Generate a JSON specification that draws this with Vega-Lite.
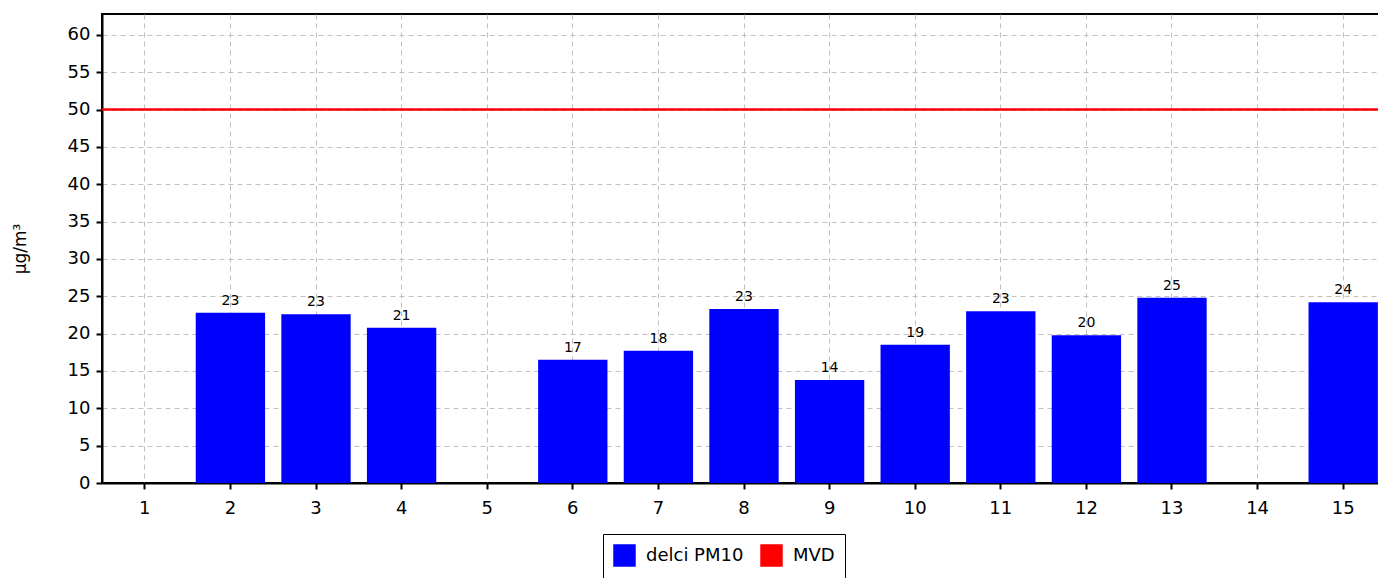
{
  "$schema": "https://vega.github.io/schema/vega-lite/v6.json",
  "autosize": {"type": "none"},
  "padding": {"left": 102, "top": 14, "right": 0, "bottom": 95},
  "width": 1284,
  "height": 469,
  "background": "white",
  "config": {
    "font": "DejaVu Sans",
    "view": {"stroke": "black", "strokeWidth": 2}
  },
  "datasets": {
    "pm": [
      {"day": "2", "value": 22.8, "series": "delci PM10"},
      {"day": "3", "value": 22.6, "series": "delci PM10"},
      {"day": "4", "value": 20.8, "series": "delci PM10"},
      {"day": "6", "value": 16.5, "series": "delci PM10"},
      {"day": "7", "value": 17.7, "series": "delci PM10"},
      {"day": "8", "value": 23.3, "series": "delci PM10"},
      {"day": "9", "value": 13.8, "series": "delci PM10"},
      {"day": "10", "value": 18.5, "series": "delci PM10"},
      {"day": "11", "value": 23.0, "series": "delci PM10"},
      {"day": "12", "value": 19.8, "series": "delci PM10"},
      {"day": "13", "value": 24.8, "series": "delci PM10"},
      {"day": "15", "value": 24.2, "series": "delci PM10"}
    ],
    "limit": [{"value": 50, "series": "MVD"}]
  },
  "encoding": {
    "y": {
      "field": "value", "type": "quantitative",
      "scale": {"domain": [0, 62.8], "nice": false, "zero": true},
      "axis": {
        "title": "µg/m³", "titleFontSize": 17, "titleFontWeight": "normal", "titleColor": "black",
        "titlePadding": 38,
        "values": [0,5,10,15,20,25,30,35,40,45,50,55,60],
        "labelFontSize": 18, "labelColor": "black", "labelPadding": 6,
        "tickSize": 6, "tickColor": "black", "tickWidth": 2,
        "domainColor": "black", "domainWidth": 2,
        "grid": true, "gridColor": "#c0c0c0", "gridDash": [5, 4], "gridWidth": 1
      }
    }
  },
  "layer": [
    {
      "data": {"name": "pm"},
      "mark": {"type": "bar"},
      "encoding": {
        "x": {
          "field": "day", "type": "nominal",
          "scale": {"domain": ["1","2","3","4","5","6","7","8","9","10","11","12","13","14","15"], "paddingInner": 0.19, "paddingOuter": 0.095},
          "axis": {
            "title": null, "labelAngle": 0, "labelFontSize": 18, "labelColor": "black",
            "labelPadding": 10, "tickSize": 6, "tickColor": "black", "tickWidth": 2,
            "domainColor": "black", "domainWidth": 2,
            "grid": true, "gridColor": "#c0c0c0", "gridDash": [5, 4], "gridWidth": 1,
            "bandPosition": 0.5
          }
        },
        "color": {
          "field": "series", "type": "nominal",
          "scale": {"domain": ["delci PM10", "MVD"], "range": ["#0000ff", "#ff0000"]},
          "legend": {
            "title": null, "orient": "none", "direction": "horizontal",
            "legendX": 501, "legendY": 520,
            "symbolType": "square", "symbolSize": 440, "symbolOpacity": 1,
            "labelFontSize": 18, "labelColor": "black",
            "strokeColor": "black", "padding": 10,
            "columnPadding": 14, "labelOffset": 10
          }
        }
      }
    },
    {
      "data": {"name": "pm"},
      "mark": {"type": "text", "baseline": "bottom", "dy": -5, "fontSize": 14, "color": "black"},
      "encoding": {
        "x": {"field": "day", "type": "nominal"},
        "text": {"field": "value", "type": "quantitative", "format": ".0f"}
      }
    },
    {
      "data": {"name": "limit"},
      "mark": {"type": "rule", "strokeWidth": 2.5},
      "encoding": {
        "color": {"field": "series", "type": "nominal"}
      }
    }
  ]
}
